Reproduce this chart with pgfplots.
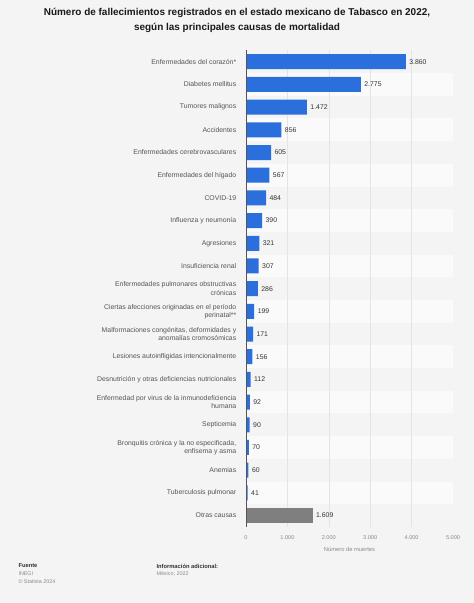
\documentclass[border=0pt]{standalone}
\usepackage{pgfplots}
\usepackage{pgfplotstable}
\pgfplotsset{compat=1.18}
\usepackage{fontspec}
\setmainfont{Liberation Sans}
\definecolor{bg}{HTML}{F4F4F4}
\definecolor{stripe}{HTML}{FAFAFA}
\definecolor{barblue}{HTML}{2A6FDB}
\definecolor{bargray}{HTML}{7F7F7F}
\definecolor{gridc}{HTML}{E4E4E4}
\definecolor{labelc}{HTML}{555555}
\definecolor{valc}{HTML}{333333}
\definecolor{tickc}{HTML}{8A8A8A}
\definecolor{titlec}{HTML}{1A1A1A}

\pgfplotstableread{
y v
0 3860
1 2775
2 1472
3 856
4 605
5 567
6 484
7 390
8 321
9 307
10 286
11 199
12 171
13 156
14 112
15 92
16 90
17 70
18 60
19 41
}\bluedata
\pgfplotstableread{
y v
20 1609
}\graydata

\begin{document}
\begin{tikzpicture}
\useasboundingbox (0,0) rectangle (474bp,603bp);
\fill[bg] (0,0) rectangle (474bp,603bp);
\node[align=center, font=\fontsize{10}{15}\selectfont\bfseries, text=titlec, anchor=north] at (237bp,598bp)
  {Número de fallecimientos registrados en el estado mexicano de Tabasco en 2022,\\según las principales causas de mortalidad};
\begin{axis}[
  at={(246bp,76.1bp)}, anchor=south west,
  scale only axis, width=207bp, height=476.5bp,
  xmin=0, xmax=5000, ymin=-0.5, ymax=20.5,
  y dir=reverse,
  xbar, bar width=15bp,
  axis line style={draw=none},
  tick style={draw=none},
  xtick={0,1000,2000,3000,4000,5000},
  scaled x ticks=false,
  /pgf/number format/1000 sep={.},
  /pgf/number format/assume math mode=true,
  xticklabel style={font=\fontsize{5.6}{7}\selectfont, text=tickc, yshift=-5bp},
  xlabel={Número de muertes},
  xlabel style={font=\fontsize{5.8}{7}\selectfont, text=tickc, yshift=-1bp},
  ytick={0,...,20},
  yticklabels={
    Enfermedades del corazón*,
    Diabetes mellitus,
    Tumores malignos,
    Accidentes,
    Enfermedades cerebrovasculares,
    Enfermedades del hígado,
    COVID-19,
    Influenza y neumonía,
    Agresiones,
    Insuficiencia renal,
    Enfermedades pulmonares obstructivas\\crónicas,
    Ciertas afecciones originadas en el período\\perinatal**,
    {Malformaciones congénitas, deformidades y\\anomalías cromosómicas},
    Lesiones autoinfligidas intencionalmente,
    Desnutrición y otras deficiencias nutricionales,
    Enfermedad por virus de la inmunodeficiencia\\humana,
    Septicemia,
    {Bronquitis crónica y la no especificada,\\enfisema y asma},
    Anemias,
    Tuberculosis pulmonar,
    Otras causas},
  yticklabel style={font=\fontsize{6.9}{8.3}\selectfont, text=labelc, align=right, xshift=-2bp},
  nodes near coords,
  nodes near coords style={font=\fontsize{6.9}{8}\selectfont, text=valc, anchor=west},
]
\pgfplotsinvokeforeach{1,3,5,7,9,11,13,15,17,19}{
  \fill[stripe] (axis cs:0,#1-0.5) rectangle (axis cs:5000,#1+0.5);
}
\pgfplotsinvokeforeach{1000,2000,3000,4000,5000}{
  \draw[gridc, line width=0.5bp] (axis cs:#1,-0.5) -- (axis cs:#1,20.5);
}
\addplot[fill=barblue, draw=none, bar shift=0pt] table[x=v, y=y] {\bluedata};
\addplot[fill=bargray, draw=none, bar shift=0pt] table[x=v, y=y] {\graydata};
\draw[color=labelc, line width=0.8bp] (axis cs:0,-0.5) -- (axis cs:0,20.5);
\end{axis}
\node[anchor=west, font=\fontsize{5.8}{7}\selectfont\bfseries, text=valc] at (15bp,37bp) {Fuente};
\node[anchor=west, font=\fontsize{5.4}{7}\selectfont, text=tickc] at (15bp,29bp) {INEGI};
\node[anchor=west, font=\fontsize{5.4}{7}\selectfont, text=tickc] at (15bp,21bp) {© Statista 2024};
\node[anchor=west, font=\fontsize{5.8}{7}\selectfont\bfseries, text=valc] at (153bp,37bp) {Información adicional:};
\node[anchor=west, font=\fontsize{5.4}{7}\selectfont, text=tickc] at (153bp,29bp) {México; 2022};
\end{tikzpicture}
\end{document}
